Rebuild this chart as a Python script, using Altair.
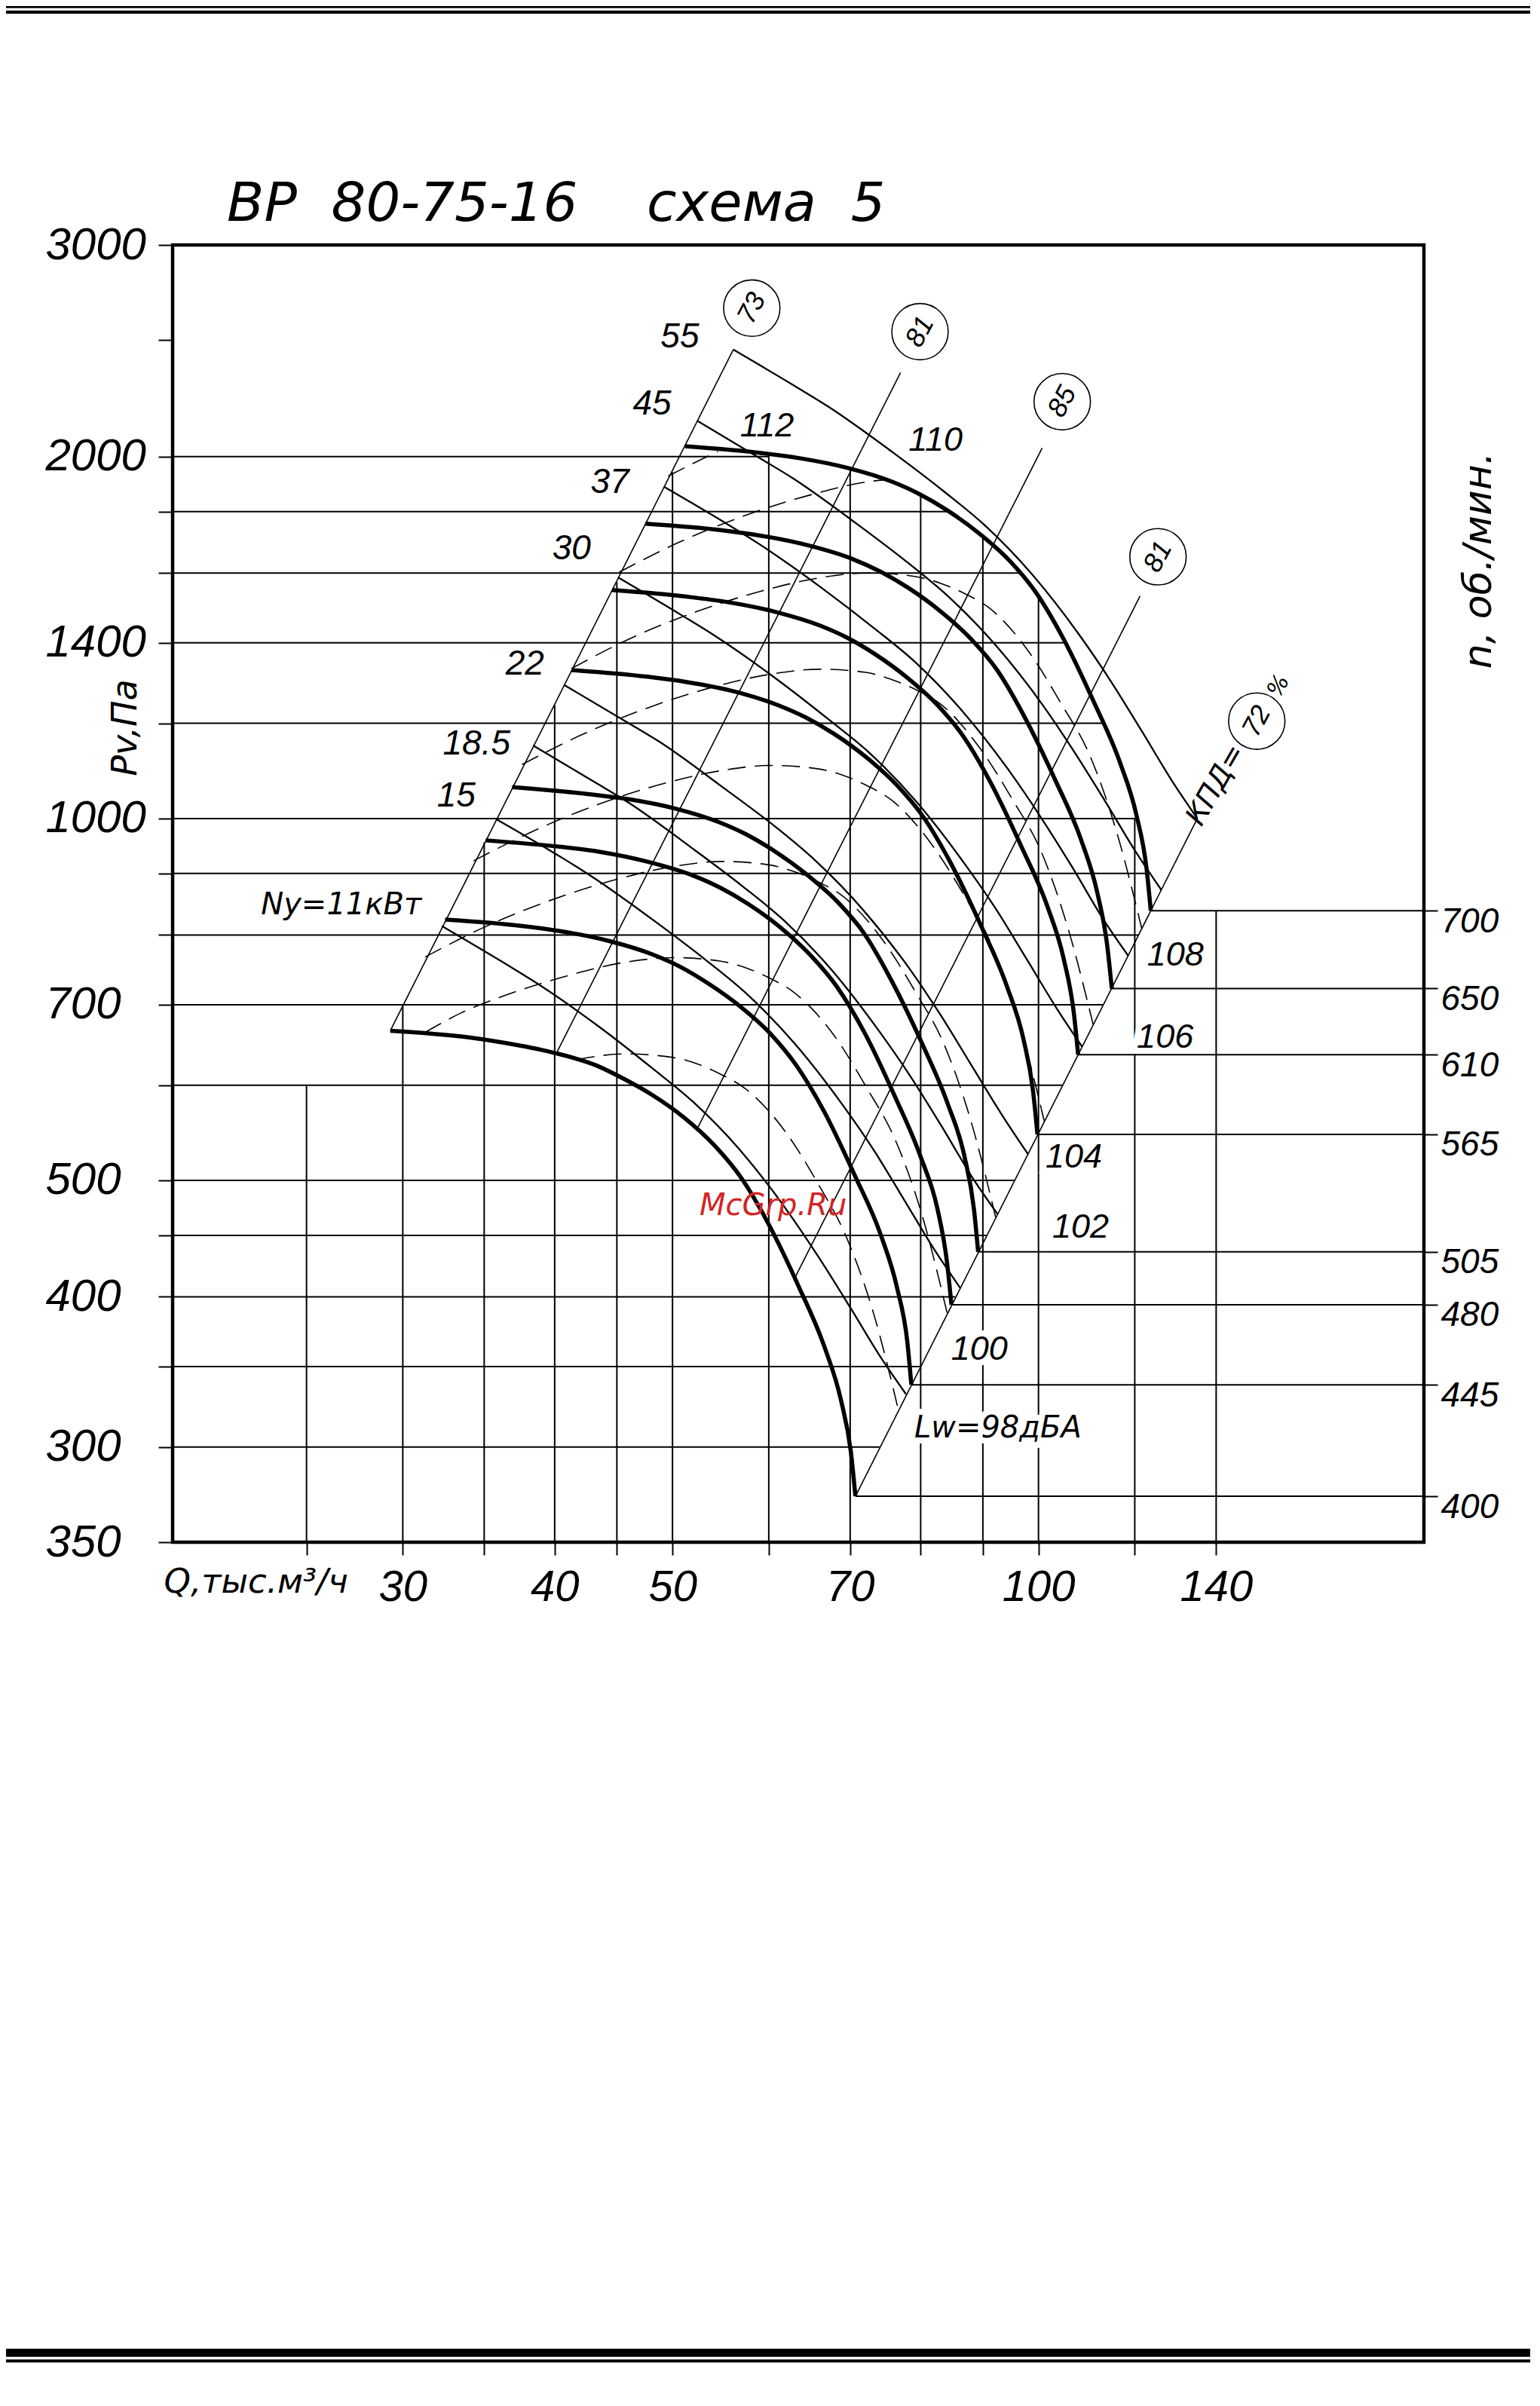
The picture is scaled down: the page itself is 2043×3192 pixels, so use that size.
import altair as alt
import pandas as pd

FONT = "Liberation Sans"
TFONT = "DejaVu Sans"

# ---------------- scales: Q (thousand m3/h), P (Pa) ----------------
Q_DOMAIN = [19.4, 207.5]
P_DOMAIN = [250, 3000]

# ---------------- axis ticks / grid ----------------
q_ticks = [25, 30, 35, 40, 45, 50, 60, 70, 80, 90, 100, 120, 140]
q_tick_labels = [30, 40, 50, 70, 100, 140]
q_grid_top = [600, 700, 955, 1243, 1573, 1942, 2010, 1955, 1859, 1716, 1530, 1000, 838]

p_ticks = [250, 300, 350, 400, 450, 500, 600, 700, 800, 900, 1000, 1200, 1400, 1600, 1800, 2000, 2500, 3000]
p_tick_labels = [3000, 2000, 1400, 1000, 700, 500, 400, 300]
p_grid = [300, 350, 400, 450, 500, 600, 700, 800, 900, 1000, 1200, 1400, 1600, 1800, 2000]
p_grid_end = [74.0, 79.9, 85.4, 90.6, 95.5, 104.6, 113.0, 120.8, 122.8, 120.5, 113.1, 105.3, 96.5, 84.4, 60.0]

# ---------------- rpm (right scale) ----------------
rpm = [700, 650, 610, 565, 505, 480, 445, 400]
rpm_end_p = [838, 722, 636, 546, 436, 394, 338, 273]
rpm_end_q = [123.7, 114.9, 107.8, 99.8, 89.2, 84.8, 78.6, 70.7]

# ---------------- thick P(Q) curves ----------------
q700 = [51.2, 59.1, 63.6, 69.7, 75.7, 79.7, 84.1, 89.4, 94.7, 99.6, 104.8, 111.1, 116.7, 120.4, 122.7, 123.7]
p700 = [2040, 2014, 1994, 1957, 1907, 1863, 1805, 1726, 1638, 1540, 1412, 1249, 1113, 1006, 909, 838]
q650 = [47.5, 54.9, 59.1, 64.7, 70.3, 74.0, 78.1, 83.0, 87.9, 92.5, 97.3, 103.2, 108.4, 111.8, 113.9, 114.9]
p650 = [1759, 1737, 1719, 1687, 1644, 1606, 1556, 1488, 1412, 1328, 1217, 1077, 960, 867, 784, 722]
q610 = [44.6, 51.5, 55.4, 60.7, 66.0, 69.5, 73.3, 77.9, 82.5, 86.8, 91.3, 96.8, 101.7, 104.9, 106.9, 107.8]
p610 = [1549, 1529, 1514, 1486, 1448, 1415, 1371, 1311, 1244, 1169, 1072, 948, 845, 764, 690, 636]
q565 = [41.3, 47.7, 51.3, 56.3, 61.1, 64.3, 67.9, 72.2, 76.4, 80.4, 84.6, 89.7, 94.2, 97.2, 99.0, 99.8]
p565 = [1329, 1312, 1299, 1275, 1242, 1214, 1176, 1124, 1067, 1003, 920, 814, 725, 655, 592, 546]
q505 = [36.9, 42.6, 45.9, 50.3, 54.6, 57.5, 60.7, 64.5, 68.3, 71.9, 75.6, 80.2, 84.2, 86.9, 88.5, 89.2]
p505 = [1062, 1048, 1038, 1019, 993, 970, 939, 898, 853, 802, 735, 650, 579, 524, 473, 436]
q480 = [35.1, 40.5, 43.6, 47.8, 51.9, 54.7, 57.7, 61.3, 64.9, 68.3, 71.9, 76.2, 80.0, 82.6, 84.1, 84.8]
p480 = [959, 947, 938, 920, 897, 876, 849, 812, 770, 724, 664, 587, 523, 473, 427, 394]
q445 = [32.5, 37.6, 40.4, 44.3, 48.1, 50.7, 53.5, 56.8, 60.2, 63.3, 66.6, 70.6, 74.2, 76.5, 78.0, 78.6]
p445 = [824, 814, 806, 791, 771, 753, 729, 698, 662, 622, 571, 505, 450, 407, 367, 338]
q400 = [29.3, 33.8, 36.3, 39.8, 43.3, 45.5, 48.1, 51.1, 54.1, 56.9, 59.9, 63.5, 66.7, 68.8, 70.1, 70.7]
p400 = [666, 658, 651, 639, 623, 608, 589, 564, 535, 503, 461, 408, 363, 328, 297, 273]

# ---------------- motor power lines (thin) ----------------
qN55 = [56.1, 63.6, 67.2, 75.7, 83.6, 90.3, 98.8, 108.0, 114.5, 121.5, 128.9, 135.1]
pN55 = [2455, 2277, 2200, 2020, 1871, 1754, 1596, 1422, 1304, 1184, 1073, 1000]
qN45 = [52.4, 59.4, 62.8, 70.7, 78.1, 84.3, 92.3, 100.9, 106.9, 113.5, 120.4, 126.2]
pN45 = [2142, 1986, 1919, 1762, 1632, 1530, 1392, 1241, 1138, 1033, 936, 872]
qN37 = [49.2, 55.8, 58.9, 66.4, 73.3, 79.2, 86.6, 94.7, 100.4, 106.6, 113.0, 118.5]
pN37 = [1888, 1751, 1692, 1554, 1439, 1349, 1228, 1094, 1003, 911, 825, 769]
qN30 = [45.1, 51.1, 54.0, 60.9, 67.2, 72.6, 79.4, 86.8, 92.1, 97.7, 103.6, 108.6]
pN30 = [1587, 1472, 1422, 1306, 1209, 1134, 1032, 919, 843, 765, 694, 646]
qN22 = [40.7, 46.1, 48.8, 54.9, 60.7, 65.5, 71.7, 78.4, 83.1, 88.1, 93.5, 98.0]
pN22 = [1292, 1199, 1158, 1063, 985, 923, 840, 749, 686, 623, 565, 526]
qN18 = [38.4, 43.5, 46.0, 51.8, 57.2, 61.8, 67.6, 73.9, 78.4, 83.2, 88.2, 92.5]
pN18 = [1150, 1067, 1031, 946, 877, 822, 748, 666, 611, 555, 503, 469]
qN15 = [35.8, 40.6, 42.9, 48.3, 53.3, 57.6, 63.0, 68.9, 73.1, 77.5, 82.2, 86.2]
pN15 = [999, 927, 895, 822, 762, 714, 650, 579, 531, 482, 437, 407]
qN11 = [32.3, 36.6, 38.7, 43.6, 48.1, 52.0, 56.9, 62.2, 65.9, 70.0, 74.2, 77.8]
pN11 = [814, 755, 729, 670, 620, 581, 529, 471, 432, 392, 356, 332]

# ---------------- sound level lines (dashed) ----------------
qL98 = [41.7, 45.7, 49.9, 52.4, 54.9, 57.4, 61.9, 66.0, 69.4, 73.2, 76.7]
pL98 = [630, 637, 633, 625, 612, 596, 549, 495, 450, 387, 322]
qL100 = [31.3, 33.5, 36.2, 41.0, 45.6, 50.2, 54.7, 57.5, 60.2, 62.9, 67.9, 72.3, 76.2, 80.3, 84.1]
pL100 = [664, 689, 711, 740, 759, 766, 761, 751, 736, 717, 660, 596, 541, 466, 388]
qL102 = [31.3, 35.0, 39.7, 45.0, 50.0, 55.0, 60.0, 63.0, 66.0, 69.0, 74.4, 79.3, 83.5, 88.0, 92.2]
pL102 = [767, 812, 855, 890, 912, 921, 915, 903, 885, 862, 793, 716, 651, 560, 466]
qL104 = [34.3, 38.4, 43.5, 49.3, 54.8, 60.3, 65.8, 69.1, 72.4, 75.7, 81.6, 87.0, 91.6, 96.5, 101.1]
pL104 = [922, 976, 1028, 1070, 1096, 1107, 1100, 1086, 1064, 1036, 953, 861, 783, 673, 560]
qL106 = [37.6, 42.1, 47.7, 54.1, 60.1, 66.1, 72.1, 75.7, 79.4, 83.0, 89.4, 95.3, 100.4, 105.8, 110.9]
pL106 = [1109, 1174, 1236, 1287, 1318, 1331, 1323, 1305, 1279, 1246, 1146, 1035, 941, 809, 674]
qL108 = [41.3, 46.1, 52.3, 59.3, 65.9, 72.5, 79.1, 83.1, 87.0, 91.0, 98.1, 104.5, 110.1, 116.0, 121.6]
pL108 = [1333, 1411, 1486, 1547, 1585, 1601, 1590, 1569, 1538, 1498, 1378, 1244, 1131, 973, 810]
qL110 = [45.2, 50.6, 57.4, 65.1, 72.3, 74.7]
pL110 = [1603, 1697, 1787, 1860, 1906, 1913]
qL112 = [49.6, 52.3, 54.5]
pL112 = [1927, 1980, 2020]

# ---------------- efficiency lines (P ~ Q^2) ----------------
qE73 = [29.3, 56.1]
pE73 = [666, 2455]
qE81a = [40.2, 77.0]
pE81a = [640, 2349]
qE85 = [52.4, 100.7]
pE85 = [552, 2033]
qE81b = [62.9, 121.2]
pE81b = [413, 1531]
qE72 = [70.7, 135.1]
pE72 = [273, 1000]

# ---------------- labels ----------------
title_text = ["ВР\u00a0\u00a080-75-16\u00a0\u00a0\u00a0\u00a0схема\u00a0\u00a05"]
title_q = [21.5]
title_p = [3142]

power_text = ["55", "45", "37", "30", "22", "18.5", "15"]
power_q = [50.7, 48.1, 44.4, 41.3, 37.8, 34.5, 33.2]
power_p = [2517, 2212, 1904, 1677, 1345, 1154, 1044]

ny_text = ["Ny=11кВт"]
ny_q = [26.7]
ny_p = [847]

top_sound_text = ["112", "110"]
top_sound_q = [59.8, 82.3]
top_sound_p = [2121, 2064]

sound_text = ["108", "106", "104", "102", "100"]
sound_q = [129.6, 127.1, 106.9, 108.3, 89.4]
sound_p = [770, 658, 523, 457, 362]

lw_text = ["Lw=98дБА"]
lw_q = [92.6]
lw_p = [311]

eff_text = ["73", "81", "85", "81", "72"]
eff_q = [58.1, 79.9, 104.6, 125.4, 151.2]
eff_p = [2658, 2541, 2222, 1651, 1205]

kpd_text = ["КПД=", "%"]
kpd_q = [140.0, 157.6]
kpd_p = [1066, 1289]
kpd_size = [38, 30]

mark_text = ["McGrp.Ru"]
mark_q = [60.5]
mark_p = [476]

# =====================================================================
xs = alt.Scale(type="log", domain=Q_DOMAIN, nice=False)
ys = alt.Scale(type="log", domain=P_DOMAIN, nice=False)


def lines_df(named):
    rows = []
    for name, qs, ps in named:
        for i, (q, p) in enumerate(zip(qs, ps)):
            rows.append({"g": name, "i": i, "Q": q, "P": p})
    return pd.DataFrame(rows)


# no axis spec here: the shared axes are defined once (explicitly) below
def xq(field="Q"):
    return alt.X(f"{field}:Q", scale=xs)


def yp(field="P"):
    return alt.Y(f"{field}:Q", scale=ys)


def text_layer(texts, qs, ps, font, size, halo=False, **kw):
    df = pd.DataFrame({"t": texts, "Q": qs, "P": ps})
    base = dict(font=font, fontSize=size, fontStyle="italic", align="center", baseline="middle")
    base.update(kw)
    layers = []
    if halo:
        layers.append(alt.Chart(df).mark_text(fill="white", stroke="white", strokeWidth=16, **base)
                      .encode(x=xq(), y=yp(), text="t:N"))
    layers.append(alt.Chart(df).mark_text(color="black", **base).encode(x=xq(), y=yp(), text="t:N"))
    return layers


q_label_expr = ("indexof(%s, datum.value) >= 0 ? format(datum.value, 'd') : ''"
                % str(q_tick_labels))
p_label_expr = ("datum.value == 250 ? '350' : (indexof(%s, datum.value) >= 0 ? format(datum.value, 'd') : '')"
                % str(p_tick_labels))
rpm_expr = " : ".join("datum.value == %s ? '%s'" % (p, n) for p, n in zip(rpm_end_p, rpm)) + " : ''"

# vertical grid + x axis
vgrid = alt.Chart(pd.DataFrame({"Q": q_ticks, "P0": [P_DOMAIN[0]] * len(q_ticks), "P1": q_grid_top})).mark_rule(
    color="black", strokeWidth=2
).encode(
    x=alt.X("Q:Q", scale=xs, axis=alt.Axis(
        orient="bottom", values=q_ticks, labelExpr=q_label_expr, tickSize=17, tickWidth=2, tickColor="black",
        labelFont=FONT, labelFontSize=58, labelFontStyle="italic", labelFontWeight="normal",
        labelColor="black", labelPadding=14, labelOverlap=False, labelFlush=False,
        domain=False, grid=False,
        title="Q,тыс.м³/ч", titleX=-12, titleY=52, titleAlign="left", titleBaseline="middle",
        titleFont=TFONT, titleFontSize=45, titleFontStyle="italic", titleFontWeight="normal",
        titleColor="black")),
    y=yp("P0"), y2="P1:Q",
)

# horizontal grid + left y axis
hgrid = alt.Chart(pd.DataFrame({"P": p_grid, "Q0": [Q_DOMAIN[0]] * len(p_grid), "Q1": p_grid_end})).mark_rule(
    color="black", strokeWidth=2
).encode(
    y=alt.Y("P:Q", scale=ys, axis=alt.Axis(
        orient="left", values=p_ticks, labelExpr=p_label_expr, tickSize=19, tickWidth=2, tickColor="black",
        labelFont=FONT, labelFontSize=60, labelFontStyle="italic", labelFontWeight="normal",
        labelColor="black", labelPadding=150, labelAlign="left", labelBaseline="middle",
        labelOverlap=False, labelFlush=False, domain=False, grid=False,
        title="Pv,Па", titleAngle=270, titleX=-63, titleY=640, titleAlign="center",
        titleBaseline="middle", titleFont=TFONT, titleFontSize=46, titleFontStyle="italic",
        titleFontWeight="normal", titleColor="black")),
    x=xq("Q0"), x2="Q1:Q",
)

eff = alt.Chart(lines_df([("73", qE73, pE73), ("81a", qE81a, pE81a), ("85", qE85, pE85),
                          ("81b", qE81b, pE81b), ("72", qE72, pE72)])).mark_line(
    color="black", strokeWidth=1.6
).encode(x=xq(), y=yp(), detail="g:N", order="i:Q")

power = alt.Chart(lines_df([("55", qN55, pN55), ("45", qN45, pN45), ("37", qN37, pN37), ("30", qN30, pN30),
                            ("22", qN22, pN22), ("18", qN18, pN18), ("15", qN15, pN15), ("11", qN11, pN11)])).mark_line(
    color="black", strokeWidth=2.3, interpolate="monotone"
).encode(x=xq(), y=yp(), detail="g:N", order="i:Q")

sound = alt.Chart(lines_df([("98", qL98, pL98), ("100", qL100, pL100), ("102", qL102, pL102),
                            ("104", qL104, pL104), ("106", qL106, pL106), ("108", qL108, pL108),
                            ("110", qL110, pL110), ("112", qL112, pL112)])).mark_line(
    color="black", strokeWidth=1.6, strokeDash=[24, 12], interpolate="monotone"
).encode(x=xq(), y=yp(), detail="g:N", order="i:Q")

thick = alt.Chart(lines_df([("700", q700, p700), ("650", q650, p650), ("610", q610, p610), ("565", q565, p565),
                            ("505", q505, p505), ("480", q480, p480), ("445", q445, p445), ("400", q400, p400)])).mark_line(
    color="black", strokeWidth=5.5, interpolate="monotone"
).encode(x=xq(), y=yp(), detail="g:N", order="i:Q")

circles = alt.Chart(pd.DataFrame({"Q": eff_q, "P": eff_p})).mark_point(
    shape="circle", size=5600, filled=False, color="black", strokeWidth=1.6, opacity=1
).encode(x=xq(), y=yp())

eff_labels = text_layer(eff_text, eff_q, eff_p, FONT, 36, angle=298)

kpd_labels = alt.Chart(pd.DataFrame({"t": kpd_text, "Q": kpd_q, "P": kpd_p, "s": kpd_size})).mark_text(
    font=TFONT, fontStyle="italic", angle=300, align="center", baseline="middle", color="black"
).encode(x=xq(), y=yp(), text="t:N", size=alt.Size("s:Q", scale=None))

power_labels = text_layer(power_text, power_q, power_p, FONT, 46)
ny_labels = text_layer(ny_text, ny_q, ny_p, TFONT, 40)
top_sound_labels = text_layer(top_sound_text, top_sound_q, top_sound_p, FONT, 45)
sound_labels = text_layer(sound_text, sound_q, sound_p, FONT, 45, halo=True)
lw_labels = text_layer(lw_text, lw_q, lw_p, TFONT, 40, halo=True)

watermark = alt.Chart(pd.DataFrame({"t": mark_text, "Q": mark_q, "P": mark_p})).mark_text(
    font=TFONT, fontSize=40, fontStyle="italic", align="center", baseline="middle", color="#d42424"
).encode(x=xq(), y=yp(), text="t:N")

title_mark = alt.Chart(pd.DataFrame({"t": title_text, "Q": title_q, "P": title_p})).mark_text(
    font=TFONT, fontSize=72, fontStyle="italic", align="left", baseline="alphabetic", color="black"
).encode(x=xq(), y=yp(), text="t:N")

one = pd.DataFrame({"a": [0]})
bars = [
    alt.Chart(one).mark_rect(color="black").encode(x=alt.value(-221), x2=alt.value(1801), y=alt.value(-317), y2=alt.value(-314.3)),
    alt.Chart(one).mark_rect(color="black").encode(x=alt.value(-221), x2=alt.value(1801), y=alt.value(-311), y2=alt.value(-306.7)),
    alt.Chart(one).mark_rect(color="black").encode(x=alt.value(-221), x2=alt.value(1801), y=alt.value(2791), y2=alt.value(2801.7)),
    alt.Chart(one).mark_rect(color="black").encode(x=alt.value(-221), x2=alt.value(1801), y=alt.value(2805.3), y2=alt.value(2809.3)),
]

inner = alt.layer(vgrid, hgrid, eff, power, sound, thick, circles, *eff_labels, kpd_labels,
                  *power_labels, *ny_labels, *top_sound_labels, *sound_labels, *lw_labels,
                  watermark, title_mark, *bars)

rpm_layer = alt.Chart(pd.DataFrame({"P": rpm_end_p, "Q0": rpm_end_q, "Q1": [Q_DOMAIN[1]] * len(rpm)})).mark_rule(
    color="black", strokeWidth=2
).encode(
    y=alt.Y("P:Q", scale=ys, axis=alt.Axis(
        orient="right", values=rpm_end_p, labelExpr=rpm_expr, tickSize=18, tickWidth=2, tickColor="black",
        labelFont=FONT, labelFontSize=46, labelFontStyle="italic", labelFontWeight="normal",
        labelColor="black", labelPadding=4, labelAlign="left", labelBaseline="middle", labelOffset=14,
        labelOverlap=False, labelFlush=False, domain=False, grid=False,
        title="n,  об./мин.", titleAngle=270, titleX=72, titleY=418, titleAlign="center",
        titleBaseline="middle", titleFont=TFONT, titleFontSize=52, titleFontStyle="italic",
        titleFontWeight="normal", titleColor="black")),
    x=xq("Q0"), x2="Q1:Q",
)

chart = alt.layer(inner, rpm_layer).resolve_scale(y="independent").properties(
    width=1660, height=1721,
    padding={"left": 221, "top": 317, "right": 146, "bottom": 1138},
    autosize=alt.AutoSizeParams(type="none"),
    background="white",
).configure_view(stroke="black", strokeWidth=4.5)

chart.save("out.html", embed_options={"renderer": "svg", "actions": False})
